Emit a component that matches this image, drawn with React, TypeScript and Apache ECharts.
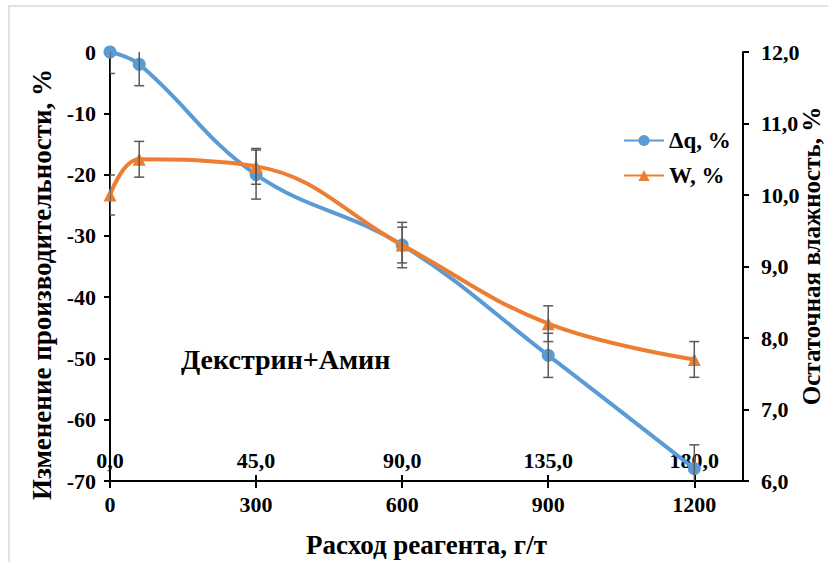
import React, { useEffect, useRef } from "react";
import * as echarts from "echarts";

const dose = [0, 60, 300, 600, 900, 1200];
const dq = [0, -2, -20, -31.5, -49.5, -68];
const dqErr = [3.5, 3.5, 4, 3.7, 3.6, 3.9];
const wVal = [10.0, 10.5, 10.4, 9.3, 8.2, 7.7];
const wErr = [0.28, 0.25, 0.25, 0.25, 0.25, 0.25];
const xTicks2Ratio = 0.15; // 300 g/t -> 45,0
const rightTitle = "Остаточная влажность, %";

const FONT = "Liberation Serif";
const comma = (v: number) => v.toFixed(1).replace(".", ",");

function errRender(params: any, api: any) {
  const x = api.value(0);
  const lo = api.coord([x, api.value(1)]);
  const hi = api.coord([x, api.value(2)]);
  const hw = 5;
  const st = { stroke: "#595959", lineWidth: 1.5 };
  return {
    type: "group",
    children: [
      { type: "line", shape: { x1: lo[0], y1: lo[1], x2: hi[0], y2: hi[1] }, style: st },
      { type: "line", shape: { x1: lo[0] - hw, y1: lo[1], x2: lo[0] + hw, y2: lo[1] }, style: st },
      { type: "line", shape: { x1: hi[0] - hw, y1: hi[1], x2: hi[0] + hw, y2: hi[1] }, style: st },
    ],
  };
}

export default function App() {
  const ref = useRef<HTMLDivElement>(null);
  useEffect(() => {
    const chart = echarts.init(ref.current!, null, { renderer: "svg" });
    const mkLine = () => ({ show: true, onZero: false, lineStyle: { color: "#000", width: 2 } });
    const mkTick = () => ({ show: true, length: 6, lineStyle: { color: "#000", width: 2 } });
    const lbl = { fontFamily: FONT, fontWeight: "bold" as const, fontSize: 22, color: "#000" };
    chart.setOption({
      animation: false,
      backgroundColor: "#fff",
      textStyle: { fontFamily: FONT },
      grid: {
        left: 110,
        right: 85,
        top: 52,
        bottom: 81,
        containLabel: false,
        outerBoundsMode: "none",
      },
      legend: {
        data: ["Δq, %", "W, %"],
        orient: "vertical",
        left: 618,
        top: 124,
        itemWidth: 40,
        itemHeight: 14,
        itemGap: 12,
        textStyle: { ...lbl, fontSize: 23 },
      },
      graphic: [
        {
          type: "rect",
          shape: { x: 9, y: 6, width: 900, height: 700 },
          style: { fill: "none", stroke: "#d9d9d9", lineWidth: 1.5 },
          silent: true,
        },
        {
          type: "text",
          left: 181,
          top: 345,
          style: {
            text: "Декстрин+Амин",
            fontFamily: FONT,
            fontWeight: "bold",
            fontSize: 28,
            fill: "#000",
          },
        },
        {
          type: "text",
          x: 811,
          y: 256,
          rotation: Math.PI / 2,
          style: {
            text: rightTitle,
            fontFamily: FONT,
            fontWeight: "bold",
            fontSize: 25,
            fill: "#000",
            align: "center",
            verticalAlign: "middle",
          },
        },
      ],
      xAxis: [
        {
          type: "value",
          min: 0,
          max: 1300,
          interval: 300,
          position: "bottom",
          name: "Расход реагента, г/т",
          nameLocation: "middle",
          nameGap: 50,
          nameTextStyle: { ...lbl, fontSize: 27 },
          axisLine: mkLine(),
          axisTick: { show: true, length: 7, lineStyle: { color: "#000", width: 2 } },
          axisLabel: { ...lbl, margin: 12, showMaxLabel: false, formatter: (v: number) => String(v) },
          splitLine: { show: false },
        },
        {
          type: "value",
          min: 0,
          max: 1300 * xTicks2Ratio,
          interval: 45,
          position: "bottom",
          axisLine: { show: false, onZero: false },
          axisTick: { show: true, inside: true, length: 6, lineStyle: { color: "#000", width: 2 } },
          axisLabel: { ...lbl, inside: true, margin: 10, showMaxLabel: false, formatter: (v: number) => comma(v) },
          splitLine: { show: false },
        },
      ],
      yAxis: [
        {
          type: "value",
          min: -70,
          max: 0,
          interval: 10,
          position: "left",
          name: "Изменение производительности, %",
          nameLocation: "middle",
          nameGap: 43,
          nameRotate: 90,
          nameTextStyle: { ...lbl, fontSize: 27, padding: [0, 36, 0, 0] },
          axisLine: mkLine(),
          axisTick: mkTick(),
          axisLabel: { ...lbl, margin: 14, formatter: (v: number) => String(v) },
          splitLine: { show: false },
        },
        {
          type: "value",
          min: 6,
          max: 12,
          interval: 1,
          position: "right",
          axisLine: mkLine(),
          axisTick: mkTick(),
          axisLabel: { ...lbl, margin: 18, formatter: (v: number) => comma(v) },
          splitLine: { show: false },
        },
      ],
      series: [
        {
          name: "Δq, %",
          type: "line",
          xAxisIndex: 0,
          yAxisIndex: 0,
          smooth: 0.4,
          data: dose.map((d, i) => [d, dq[i]]),
          symbol: "circle",
          symbolSize: 13,
          lineStyle: { color: "#5B9BD5", width: 4 },
          itemStyle: { color: "#5B9BD5" },
          z: 3,
        },
        {
          name: "W, %",
          type: "line",
          xAxisIndex: 0,
          yAxisIndex: 1,
          smooth: 0.4,
          data: dose.map((d, i) => [d, wVal[i]]),
          symbol: "triangle",
          symbolSize: 13,
          lineStyle: { color: "#ED7D31", width: 4 },
          itemStyle: { color: "#ED7D31" },
          z: 4,
        },
        {
          type: "custom",
          xAxisIndex: 0,
          yAxisIndex: 0,
          renderItem: errRender,
          clip: true,
          data: dose.map((d, i) => [d, dq[i] - dqErr[i], dq[i] + dqErr[i]]),
          z: 5,
          silent: true,
        },
        {
          type: "custom",
          xAxisIndex: 0,
          yAxisIndex: 1,
          renderItem: errRender,
          clip: true,
          data: dose.map((d, i) => [d, wVal[i] - wErr[i], wVal[i] + wErr[i]]),
          z: 5,
          silent: true,
        },
      ],
    });
    return () => chart.dispose();
  }, []);
  return (
    <div
      ref={ref}
      style={{ position: "absolute", left: 0, top: 0, width: 828, height: 562 }}
    />
  );
}
